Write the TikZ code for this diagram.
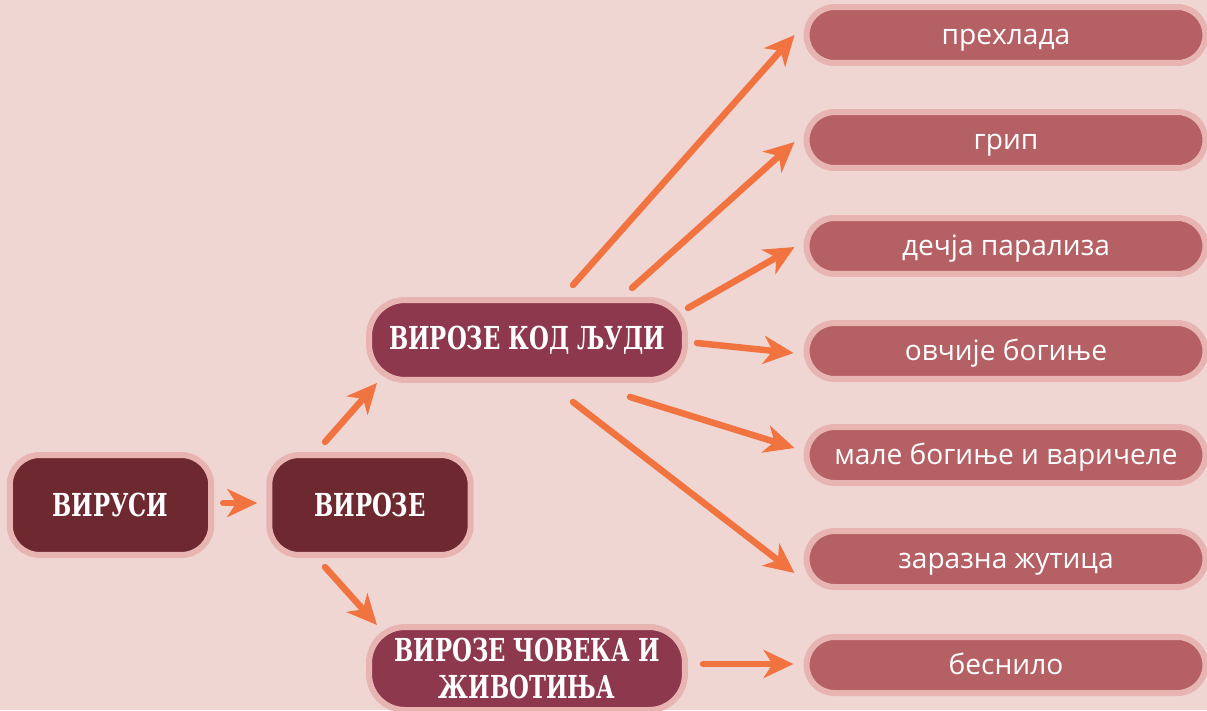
\documentclass[tikz,border=0pt]{standalone}
\usepackage{fontspec}
\usetikzlibrary{arrows.meta}
\newfontfamily\capsfont[FakeStretch=0.72]{DejaVu Serif}
\newfontfamily\plainfont{Open Sans}
\definecolor{bgpink}{RGB}{240,214,211}
\definecolor{halo}{RGB}{231,180,178}
\definecolor{darkred}{RGB}{110,41,48}
\definecolor{midred}{RGB}{142,56,77}
\definecolor{rosered}{RGB}{180,96,100}
\definecolor{arrowc}{RGB}{240,115,64}

\begin{document}
\begin{tikzpicture}[x=0.02cm,y=-0.02cm,
	box/.style={draw=halo,line width=0.12cm,text=white,inner sep=0pt},
	darkbox/.style={box,fill=darkred,rounded corners=0.6cm,minimum width=4.03cm,minimum height=2cm,font=\capsfont\bfseries\fontsize{18}{22}\selectfont},
	midbox/.style={box,fill=midred,rounded corners=0.72cm,minimum width=6.32cm,minimum height=1.6cm,align=center,font=\capsfont\bfseries\fontsize{18}{21.6}\selectfont},
	pill/.style={box,fill=rosered,rounded corners=0.56cm,minimum width=7.98cm,minimum height=1.12cm,text height=13.6pt,text depth=2.4pt,font=\plainfont\fontsize{16}{20}\selectfont},
	arr/.style={draw=arrowc,line width=0.13cm,line cap=round,-{Stealth[length=0.6cm,width=0.56cm,inset=0.18cm]}}]
	\useasboundingbox (0,0) rectangle (1207,710);
	\fill [bgpink] (0,0) rectangle (1207,710);
	\begin{scope}[every node/.style={darkbox}]
	\node (A) at (110.5,505) {ВИРУСИ};
	\node (B) at (370,505) {ВИРОЗЕ};
	\end{scope}
	\begin{scope}[every node/.style={midbox}]
	\node (C) at (527,340) {ВИРОЗЕ КОД ЉУДИ};
	\node [minimum height=1.66cm] (D) at (527,668.5) {ВИРОЗЕ ЧОВЕКА И\\ЖИВОТИЊА};
	\end{scope}
	\begin{scope}[every node/.style={pill}]
	\node (E) at (1006,35) {прехлада};
	\node (F) at (1006,140) {грип};
	\node (G) at (1006,246) {дечја парализа};
	\node (H) at (1006,351) {овчије богиње};
	\node (I) at (1006,455) {мале богиње и варичеле};
	\node (J) at (1006,559) {заразна жутица};
	\node (K) at (1006,665) {беснило};
	\end{scope}
	\draw [arr] ([shift={(9,-2)}]A.east) -- ([shift={(-9,-2)}]B.west);
	\draw [arr] ([shift={(-45,-63)}]B.center) -- ([shift={(-150,43)}]C.center);
	\draw [arr] ([shift={(-45,62)}]B.center) -- ([shift={(-150,-43.5)}]D.center);
	\draw [arr] ([shift={(46,-55)}]C.center) -- ([shift={(-9,0)}]E.west);
	\draw [arr] ([shift={(105,-52)}]C.center) -- ([shift={(-9,2)}]F.west);
	\draw [arr] ([shift={(161,-32)}]C.center) -- ([shift={(-9,1)}]G.west);
	\draw [arr] ([shift={(170,3)}]C.center) -- ([shift={(-10,2)}]H.west);
	\draw [arr] ([shift={(103,57)}]C.center) -- ([shift={(-9,-7)}]I.west);
	\draw [arr] ([shift={(46,62)}]C.center) -- ([shift={(-9,14)}]J.west);
	\draw [arr] ([shift={(15,-4.5)}]D.east) -- ([shift={(-10,-1)}]K.west);
\end{tikzpicture}
\end{document}
